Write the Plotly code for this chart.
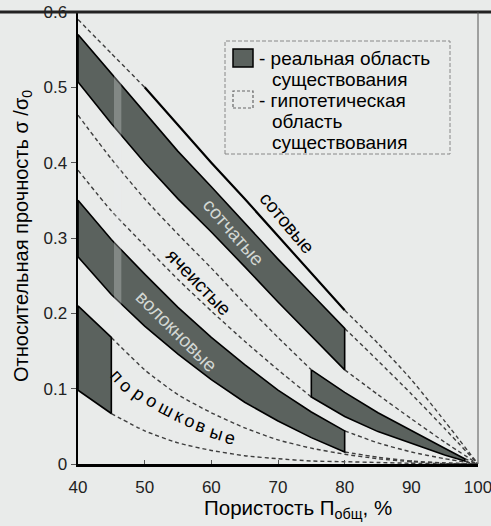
import plotly.graph_objects as go

# ---------------- data ----------------
x_band = [40, 45, 50, 55, 60, 65, 70, 75, 80]
hyp_x = [80, 85, 90, 95, 100]

# сотовые (honeycomb) - real region is a line
sot_real_x = [50, 55, 60, 65, 70, 75, 80]
sot_real_y = [0.500, 0.450, 0.400, 0.352, 0.303, 0.253, 0.204]
sot_hyp_left_x = [40, 45, 50]
sot_hyp_left_y = [0.590, 0.545, 0.500]
sot_hyp_right_y = [0.204, 0.160, 0.112, 0.057, 0.0]

# сотчатые
sotch_upper = [0.570, 0.518, 0.466, 0.415, 0.368, 0.320, 0.272, 0.226, 0.180]
sotch_lower = [0.507, 0.452, 0.400, 0.352, 0.308, 0.262, 0.215, 0.170, 0.125]
sotch_hyp_upper = [0.180, 0.137, 0.093, 0.047, 0.0]
sotch_hyp_lower = [0.125, 0.092, 0.060, 0.029, 0.0]

# ячеистые
yach_hyp_x = [40, 45, 50, 55, 60, 65, 70, 75]
yach_hyp_upper = [0.463, 0.405, 0.352, 0.305, 0.260, 0.213, 0.168, 0.125]
yach_hyp_lower = [0.390, 0.336, 0.290, 0.245, 0.203, 0.163, 0.125, 0.089]
yach_real_x = [75, 80, 85, 90, 95, 98]
yach_real_upper = [0.125, 0.095, 0.068, 0.044, 0.021, 0.007]
yach_real_lower = [0.089, 0.063, 0.043, 0.027, 0.012, 0.004]
yach_end_x = [98, 100]
yach_end_upper = [0.007, 0.0]
yach_end_lower = [0.004, 0.0]

# волокновые
vol_upper = [0.350, 0.298, 0.252, 0.208, 0.168, 0.132, 0.098, 0.069, 0.044]
vol_lower = [0.275, 0.225, 0.183, 0.146, 0.112, 0.082, 0.057, 0.035, 0.016]
vol_hyp_upper = [0.044, 0.028, 0.016, 0.007, 0.0]
vol_hyp_lower = [0.016, 0.009, 0.004, 0.0015, 0.0]

# порошковые
por_real_x = [40, 45]
por_real_upper = [0.210, 0.168]
por_real_lower = [0.098, 0.067]
por_hyp_x = [45, 50, 55, 60, 65, 70, 75, 80, 85, 90, 95, 100]
por_hyp_upper = [0.168, 0.125, 0.092, 0.068, 0.048, 0.032, 0.021, 0.013, 0.007, 0.003, 0.001, 0.0]
por_hyp_lower = [0.067, 0.044, 0.028, 0.018, 0.011, 0.007, 0.004, 0.003, 0.002, 0.001, 0.0005, 0.0]

x_ticks = [40, 50, 60, 70, 80, 90, 100]
y_ticks = [0, 0.1, 0.2, 0.3, 0.4, 0.5, 0.6]
y_ticktext = ["0", "0.1", "0.2", "0.3", "0.4", "0.5", "0.6"]

# ---------------- style ----------------
W, H = 491, 526
L, R, T, B = 78, 13, 12, 62
PW, PH = W - L - R, H - T - B
FONT = "Liberation Sans, Arial, sans-serif"
BAND = "#5b625e"
DASH_C = "#3e3e3e"
BG = "#e9ebea"


def px2x(px):
    return 40 + (px - L) / PW * 60


def py2y(py):
    return (H - B - py) / PH * 0.6


fig = go.Figure()


def band(xs, up, lo):
    fig.add_trace(go.Scatter(
        x=list(xs) + list(xs)[::-1] + [xs[0]],
        y=list(up) + list(lo)[::-1] + [up[0]],
        mode="lines", fill="toself", fillcolor=BAND,
        line=dict(color="black", width=1.6), hoverinfo="skip", showlegend=False))


def dashed(xs, ys):
    fig.add_trace(go.Scatter(
        x=xs, y=ys, mode="lines",
        line=dict(color=DASH_C, width=1.4, dash="4px,3px", shape="spline", smoothing=0.6),
        hoverinfo="skip", showlegend=False))


# hypothetical (dashed) lines
dashed(sot_hyp_left_x, sot_hyp_left_y)
dashed(hyp_x, sot_hyp_right_y)
dashed(hyp_x, sotch_hyp_upper)
dashed(hyp_x, sotch_hyp_lower)
dashed(yach_hyp_x, yach_hyp_upper)
dashed(yach_hyp_x, yach_hyp_lower)
dashed(yach_end_x, yach_end_upper)
dashed(yach_end_x, yach_end_lower)
dashed(hyp_x, vol_hyp_upper)
dashed(hyp_x, vol_hyp_lower)
dashed(por_hyp_x, por_hyp_upper)
dashed(por_hyp_x, por_hyp_lower)

# real regions
band(x_band, sotch_upper, sotch_lower)
band(x_band, vol_upper, vol_lower)
band(yach_real_x, yach_real_upper, yach_real_lower)
band(por_real_x, por_real_upper, por_real_lower)
fig.add_trace(go.Scatter(x=sot_real_x, y=sot_real_y, mode="lines",
                         line=dict(color="black", width=2.2), hoverinfo="skip", showlegend=False))

shapes = []
# light scan stripe through the two long bands
shapes.append(dict(type="rect", xref="x", yref="y", x0=45.4, x1=46.5, y0=0.19, y1=0.52,
                   fillcolor="rgba(235,238,236,0.28)", line=dict(width=0), layer="above"))
# frame: top thick line across the picture, thin right border
shapes.append(dict(type="line", xref="paper", yref="paper", x0=-L / PW, x1=(W - L) / PW, y0=1, y1=1,
                   line=dict(color="#222", width=3)))
shapes.append(dict(type="line", xref="paper", yref="paper", x0=1, x1=1, y0=0, y1=1,
                   line=dict(color="#555", width=1)))

# legend box
shapes.append(dict(type="rect", xref="x", yref="y", x0=px2x(225), x1=px2x(450), y0=py2y(154), y1=py2y(41),
                   fillcolor=BG, line=dict(color="#888", width=1, dash="4px,2px")))
shapes.append(dict(type="rect", xref="x", yref="y", x0=px2x(233), x1=px2x(253), y0=py2y(67), y1=py2y(49),
                   fillcolor=BAND, line=dict(color="black", width=1.5)))
shapes.append(dict(type="rect", xref="x", yref="y", x0=px2x(233), x1=px2x(253), y0=py2y(108), y1=py2y(91),
                   fillcolor="rgba(0,0,0,0)", line=dict(color="#666", width=1.2, dash="3px,2px")))

ann = []


def txt(s, px, py, size=15, color="black", angle=0, xanchor="center"):
    ann.append(dict(text=s, x=px2x(px), y=py2y(py), xref="x", yref="y", showarrow=False,
                    textangle=angle, xanchor=xanchor, yanchor="middle",
                    font=dict(family=FONT, size=size, color=color)))


# legend text
LS = 19
txt("- реальная область", 257, 58, LS, xanchor="left")
txt("существования", 270, 79, LS, xanchor="left")
txt("- гипотетическая", 257, 100, LS, xanchor="left")
txt("область", 270, 121, LS, xanchor="left")
txt("существования", 270, 142, LS, xanchor="left")

# curve labels
txt("сотовые", 287, 222, 19, angle=50)
txt("сотчатые", 234, 232, 19, color="#d3d8d4", angle=49)
txt("ячеистые", 199, 282, 19, angle=46)
txt("волокновые", 177, 331, 19, color="#d3d8d4", angle=45)
por_letters = [("п", 117, 376, 48), ("о", 126, 386, 42), ("р", 139, 394, 36), ("о", 152, 401, 31),
               ("ш", 166, 409, 27), ("к", 179, 416, 24), ("о", 190, 421, 22), ("в", 201, 426, 20),
               ("ы", 216, 433, 17), ("е", 230, 438, 14)]
for ch, px, py, a in por_letters:
    txt(ch, px, py, 18, angle=a)

# axis titles
ann.append(dict(text="Относительная прочность σ /σ<sub>0</sub>", x=(22 - L) / PW, y=(H - B - 236) / PH,
                xref="paper", yref="paper", showarrow=False, textangle=-90,
                xanchor="center", yanchor="middle",
                font=dict(family=FONT, size=20, color="black")))
ann.append(dict(text="Пористость П<sub>общ</sub>, %", x=(298 - L) / PW, y=(H - B - 509) / PH,
                xref="paper", yref="paper", showarrow=False,
                xanchor="center", yanchor="middle",
                font=dict(family=FONT, size=20.5, color="black")))

fig.update_layout(
    width=W, height=H, margin=dict(l=L, r=R, t=T, b=B, autoexpand=False),
    paper_bgcolor=BG, plot_bgcolor=BG,
    shapes=shapes, annotations=ann, showlegend=False,
    xaxis=dict(range=[40, 100], tickvals=x_ticks, showgrid=False, zeroline=False, automargin=False,
               showline=True, linecolor="black", linewidth=2.5, ticks="inside", ticklen=4,
               tickcolor="#555", tickfont=dict(family=FONT, size=17, color="#222"),
               ticklabelstandoff=6, ticklabeloverflow="allow"),
    yaxis=dict(range=[0, 0.6], tickvals=y_ticks, ticktext=y_ticktext, showgrid=False, zeroline=False,
               automargin=False,
               showline=True, linecolor="black", linewidth=2.5, ticks="outside", ticklen=5,
               tickcolor="#555", tickfont=dict(family=FONT, size=17, color="#222")),
)

fig.write_html("out.html", config={"displayModeBar": False, "staticPlot": True},
               post_script="document.body.style.margin='0';document.body.style.overflow='hidden';")
